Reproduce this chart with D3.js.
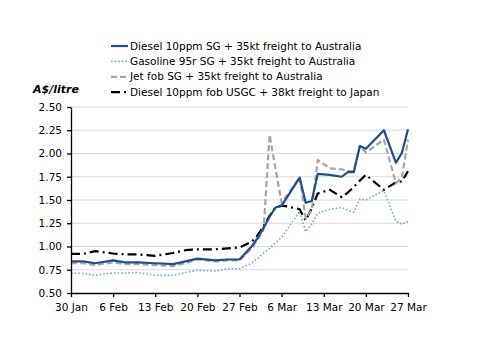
<!DOCTYPE html>
<html>
<head>
<meta charset="utf-8">
<script src="https://cdn.jsdelivr.net/npm/d3@7"></script>
<style>
  body { margin: 0; background: #fff; }
  text { font-family: "DejaVu Sans", sans-serif; }
</style>
</head>
<body>
<div id="wrapper"></div>
<script>
const dates = ["2022-01-30", "2022-02-01", "2022-02-03", "2022-02-06", "2022-02-08", "2022-02-10",
  "2022-02-13", "2022-02-16", "2022-02-18", "2022-02-20", "2022-02-23", "2022-02-25", "2022-02-27",
  "2022-03-01", "2022-03-02", "2022-03-03", "2022-03-04", "2022-03-05", "2022-03-06", "2022-03-07",
  "2022-03-09", "2022-03-10", "2022-03-11", "2022-03-12", "2022-03-14", "2022-03-16", "2022-03-17",
  "2022-03-18", "2022-03-19", "2022-03-20", "2022-03-23", "2022-03-25", "2022-03-26", "2022-03-27"]

const dieselSG = [0.84, 0.84, 0.82, 0.85, 0.83, 0.83, 0.82, 0.81, 0.84, 0.87, 0.85, 0.86, 0.86,
  1.00, 1.09, 1.20, 1.32, 1.42, 1.44, 1.54, 1.74, 1.47, 1.49, 1.78, 1.77, 1.75, 1.80,
  1.80, 2.08, 2.05, 2.25, 1.90, 2.01, 2.26]
const gasolineSG = [0.715, 0.71, 0.69, 0.715, 0.715, 0.72, 0.69, 0.69, 0.72, 0.745, 0.735, 0.76, 0.76,
  0.82, 0.87, 0.93, 0.98, 1.04, 1.10, 1.19, 1.38, 1.16, 1.24, 1.36, 1.40, 1.42, 1.39,
  1.37, 1.51, 1.50, 1.60, 1.27, 1.24, 1.27]
const jetSG = [0.82, 0.82, 0.80, 0.83, 0.81, 0.81, 0.80, 0.79, 0.82, 0.86, 0.84, 0.85, 0.85,
  0.98, 1.07, 1.18, 2.20, 1.83, 1.47, 1.56, 1.745, 1.30, 1.39, 1.93, 1.84, 1.83, 1.81,
  1.81, 2.08, 2.01, 2.15, 1.68, 1.75, 2.15]
const dieselUSGC = [0.92, 0.92, 0.95, 0.925, 0.915, 0.915, 0.90, 0.93, 0.96, 0.97, 0.97, 0.98, 0.99,
  1.05, 1.12, 1.22, 1.33, 1.42, 1.44, 1.43, 1.40, 1.28, 1.41, 1.57, 1.61, 1.53, 1.58,
  1.64, 1.71, 1.77, 1.61, 1.69, 1.70, 1.81]

const seriesNames = [
  "Diesel 10ppm SG + 35kt freight to Australia",
  "Gasoline 95r SG + 35kt freight to Australia",
  "Jet fob SG + 35kt freight to Australia",
  "Diesel 10ppm fob USGC + 38kt freight to Japan"
]
const yTicks = [0.5, 0.75, 1, 1.25, 1.5, 1.75, 2, 2.25, 2.5]
const xTicks = ["2022-01-30", "2022-02-06", "2022-02-13", "2022-02-20", "2022-02-27",
  "2022-03-06", "2022-03-13", "2022-03-20", "2022-03-27"]
const yLabel = "A$/litre"

function drawLineChart() {
  const parseDate = d3.timeParse("%Y-%m-%d")

  let dimensions = {
    width: 500,
    height: 354,
    margin: {
      top: 107,
      right: 92,
      bottom: 61,
      left: 71
    }
  }
  dimensions.boundedWidth = dimensions.width
    - dimensions.margin.left
    - dimensions.margin.right
  dimensions.boundedHeight = dimensions.height
    - dimensions.margin.top
    - dimensions.margin.bottom

  const wrapper = d3.select("#wrapper")
    .append("svg")
      .attr("width", dimensions.width)
      .attr("height", dimensions.height)

  wrapper.append("rect")
    .attr("width", dimensions.width)
    .attr("height", dimensions.height)
    .attr("fill", "#fff")

  const bounds = wrapper.append("g")
    .attr("transform", `translate(${dimensions.margin.left}, ${dimensions.margin.top})`)

  const xScale = d3.scaleTime()
    .domain([parseDate(xTicks[0]), parseDate(xTicks[xTicks.length - 1])])
    .range([0, dimensions.boundedWidth])

  const yScale = d3.scaleLinear()
    .domain([0.5, 2.5])
    .range([dimensions.boundedHeight, 0])

  // gridlines
  bounds.append("g")
    .selectAll("line")
    .data(yTicks.slice(1))
    .join("line")
      .attr("x1", 0)
      .attr("x2", dimensions.boundedWidth)
      .attr("y1", d => yScale(d))
      .attr("y2", d => yScale(d))
      .attr("stroke", "#d9d9d9")
      .attr("stroke-width", 1)

  const series = [
    { name: seriesNames[0], values: dieselSG, color: "#1f4e8c", width: 2.2, dash: null },
    { name: seriesNames[1], values: gasolineSG, color: "#6fa6e6", width: 1.6, dash: "1.6,2" },
    { name: seriesNames[2], values: jetSG, color: "#a6a6a6", width: 2.2, dash: "6,3" },
    { name: seriesNames[3], values: dieselUSGC, color: "#000", width: 2.2, dash: "9,4,2,4" }
  ]

  const lineGenerator = d3.line()
    .x((d, i) => xScale(parseDate(dates[i])))
    .y(d => yScale(d))

  // draw order: gasoline, usgc, jet, diesel on top
  const drawOrder = [1, 3, 2, 0]
  for (const idx of drawOrder) {
    const s = series[idx]
    bounds.append("path")
      .attr("d", lineGenerator(s.values))
      .attr("fill", "none")
      .attr("stroke", s.color)
      .attr("stroke-width", s.width)
      .attr("stroke-dasharray", s.dash)
      .attr("stroke-linejoin", "round")
  }

  const xAxisGenerator = d3.axisBottom()
    .scale(xScale)
    .tickValues(xTicks.map(parseDate))
    .tickFormat(d3.timeFormat("%-d %b"))
    .tickSizeInner(4)
    .tickSizeOuter(0)
    .tickPadding(7)

  const xAxis = bounds.append("g")
    .call(xAxisGenerator)
      .attr("transform", `translate(0, ${dimensions.boundedHeight})`)

  const yAxisGenerator = d3.axisLeft()
    .scale(yScale)
    .tickValues(yTicks)
    .tickFormat(d3.format(".2f"))
    .tickSizeInner(4)
    .tickSizeOuter(0)
    .tickPadding(5)

  const yAxis = bounds.append("g")
    .call(yAxisGenerator)

  for (const axis of [xAxis, yAxis]) {
    axis.select(".domain").attr("stroke", "#000").attr("stroke-width", 1.3)
    axis.selectAll(".tick line").attr("stroke", "#000").attr("stroke-width", 1.3)
    axis.selectAll(".tick text")
      .attr("fill", "#000")
      .style("font-size", "10.5px")
      .style("font-family", "'DejaVu Sans', sans-serif")
  }

  // y label
  wrapper.append("text")
    .attr("x", 33)
    .attr("y", 93)
    .attr("font-size", "11px")
    .attr("font-weight", "bold")
    .attr("font-style", "italic")
    .text(yLabel)

  // legend
  const legend = wrapper.append("g")
    .attr("transform", "translate(111, 46)")

  series.forEach((s, i) => {
    const row = legend.append("g")
      .attr("transform", `translate(0, ${i * 15.4})`)
    row.append("line")
      .attr("x1", 0)
      .attr("x2", 17)
      .attr("stroke", s.color)
      .attr("stroke-width", s.width)
      .attr("stroke-dasharray", s.dash)
    row.append("text")
      .attr("x", 19)
      .attr("dy", "0.35em")
      .attr("font-size", "10.5px")
      .text(s.name)
  })
}

drawLineChart()
</script>
</body>
</html>
